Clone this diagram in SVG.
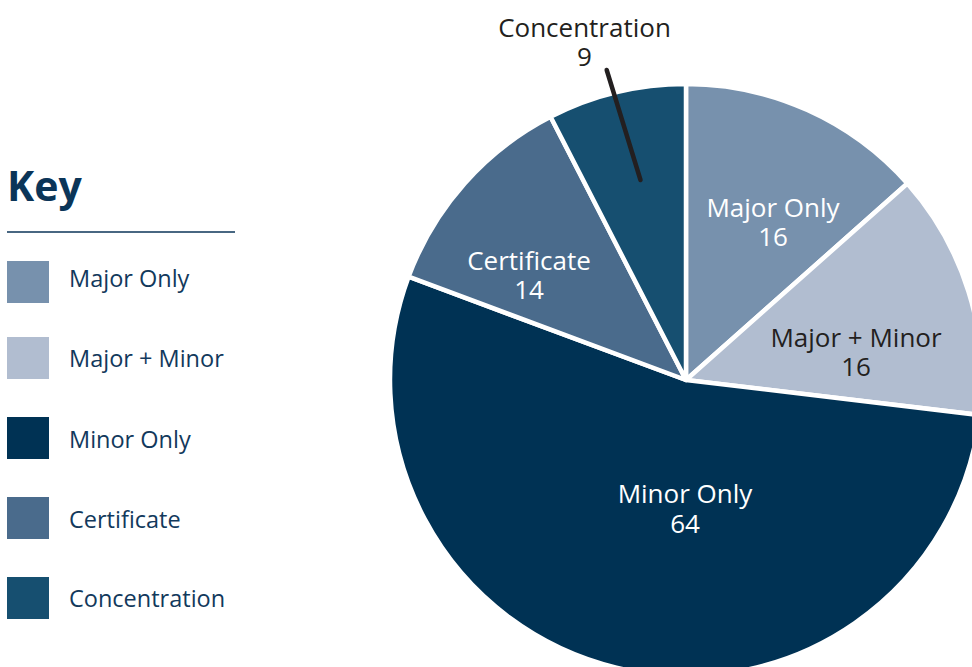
<svg xmlns="http://www.w3.org/2000/svg" width="972" height="667" viewBox="0 0 972 667">
  <style>
    .slice { stroke: #ffffff; stroke-width: 4.5; stroke-linejoin: round; }
    .key-item { font-family: "Open Sans", "Noto Sans", sans-serif; font-size: 23.5px; fill: #12395C; }
    .lbl { font-family: "Open Sans", "Noto Sans", sans-serif; font-size: 26px; text-anchor: middle; }
    .w { fill: #ffffff; }
    .d { fill: #231F20; }
  </style>
  <rect width="972" height="667" fill="#ffffff"/>
  <g id="key">
    <text x="7" y="201" font-family="Open Sans, Noto Sans, sans-serif" font-size="41" font-weight="bold" fill="#0B3558">Key</text>
    <line x1="7" y1="232" x2="235" y2="232" stroke="#0B3558" stroke-width="1.5"/>
    <g id="key-major-only">
      <rect x="7" y="261" width="42" height="42" fill="#7791AD"/>
      <text class="key-item" x="69" y="287">Major Only</text>
    </g>
    <g id="key-major-minor">
      <rect x="7" y="337" width="42" height="42" fill="#B1BDD0"/>
      <text class="key-item" x="69" y="367">Major + Minor</text>
    </g>
    <g id="key-minor-only">
      <rect x="7" y="417" width="42" height="42" fill="#003254"/>
      <text class="key-item" x="69" y="448">Minor Only</text>
    </g>
    <g id="key-certificate">
      <rect x="7" y="497" width="42" height="42" fill="#4A6B8C"/>
      <text class="key-item" x="69" y="528">Certificate</text>
    </g>
    <g id="key-concentration">
      <rect x="7" y="577" width="42" height="42" fill="#164F70"/>
      <text class="key-item" x="69" y="607">Concentration</text>
    </g>
  </g>
  <g id="pie">
    <g id="slice-major-only">
      <path class="slice" fill="#7791AD" d="M686,380 L686,84 A296,296 0 0 1 907.40,183.54 Z"/>
      <text class="lbl w" x="773" y="217">Major Only<tspan x="773" dy="29">16</tspan></text>
    </g>
    <g id="slice-major-minor">
      <path class="slice" fill="#B1BDD0" d="M686,380 L907.40,183.54 A296,296 0 0 1 979.91,415.08 Z"/>
      <text class="lbl d" x="856" y="347">Major + Minor<tspan x="856" dy="29">16</tspan></text>
    </g>
    <g id="slice-minor-only">
      <path class="slice" fill="#003254" d="M686,380 L979.91,415.08 A296,296 0 1 1 408.59,276.73 Z"/>
      <text class="lbl w" x="685" y="503">Minor Only<tspan x="685" dy="30">64</tspan></text>
    </g>
    <g id="slice-certificate">
      <path class="slice" fill="#4A6B8C" d="M686,380 L408.59,276.73 A296,296 0 0 1 550.58,116.79 Z"/>
      <text class="lbl w" x="529" y="270">Certificate<tspan x="529" dy="29">14</tspan></text>
    </g>
    <g id="slice-concentration">
      <path class="slice" fill="#164F70" d="M686,380 L550.58,116.79 A296,296 0 0 1 686,84 Z"/>
      <text class="lbl d" x="584.5" y="37">Concentration<tspan x="584.5" dy="29">9</tspan></text>
    </g>
  </g>
  <g id="connectors">
    <line x1="606.7" y1="70" x2="640.5" y2="180" stroke="#231F20" stroke-width="4.5" stroke-linecap="round"/>
  </g>
</svg>
